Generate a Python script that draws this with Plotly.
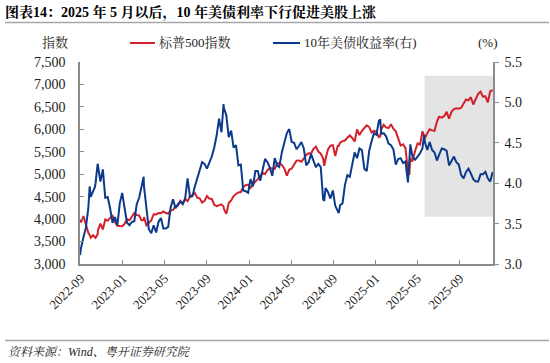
import plotly.graph_objects as go

dates = [
    "2022-08-30", "2022-09-02", "2022-09-09", "2022-09-16", "2022-09-23", "2022-09-27", "2022-09-30",
    "2022-10-07", "2022-10-12", "2022-10-14", "2022-10-20", "2022-10-21", "2022-10-28",
    "2022-11-04", "2022-11-11", "2022-11-18", "2022-11-25", "2022-12-02", "2022-12-09",
    "2022-12-16", "2022-12-23", "2022-12-30",
    "2023-01-06", "2023-01-13", "2023-01-20", "2023-01-27", "2023-02-03", "2023-02-10",
    "2023-02-17", "2023-02-24", "2023-03-02", "2023-03-03", "2023-03-10", "2023-03-17",
    "2023-03-24", "2023-03-31", "2023-04-07", "2023-04-14", "2023-04-21", "2023-04-28",
    "2023-05-05", "2023-05-12", "2023-05-19", "2023-05-26", "2023-06-02", "2023-06-09",
    "2023-06-16", "2023-06-23", "2023-06-30", "2023-07-07", "2023-07-14", "2023-07-21",
    "2023-07-28", "2023-08-04", "2023-08-11", "2023-08-18", "2023-08-25", "2023-09-01",
    "2023-09-08", "2023-09-15", "2023-09-22", "2023-09-29", "2023-10-06", "2023-10-13",
    "2023-10-19", "2023-10-20", "2023-10-27", "2023-11-03", "2023-11-10", "2023-11-17",
    "2023-11-24", "2023-12-01", "2023-12-08", "2023-12-15", "2023-12-22", "2023-12-29",
    "2024-01-05", "2024-01-12", "2024-01-19", "2024-01-26", "2024-02-02", "2024-02-09",
    "2024-02-16", "2024-02-23", "2024-03-01", "2024-03-08", "2024-03-15", "2024-03-22",
    "2024-03-28", "2024-04-05", "2024-04-12", "2024-04-19", "2024-04-26", "2024-05-03",
    "2024-05-10", "2024-05-17", "2024-05-24", "2024-05-31", "2024-06-07", "2024-06-14",
    "2024-06-21", "2024-06-28", "2024-07-05", "2024-07-12", "2024-07-19", "2024-07-26",
    "2024-08-02", "2024-08-05", "2024-08-09", "2024-08-16", "2024-08-23", "2024-08-30",
    "2024-09-06", "2024-09-13", "2024-09-16", "2024-09-20", "2024-09-27", "2024-10-04",
    "2024-10-11", "2024-10-18", "2024-10-25", "2024-11-01", "2024-11-08", "2024-11-15",
    "2024-11-22", "2024-11-29", "2024-12-06", "2024-12-13", "2024-12-20", "2024-12-27",
    "2025-01-03", "2025-01-10", "2025-01-14", "2025-01-17", "2025-01-24", "2025-01-31",
    "2025-02-07", "2025-02-14", "2025-02-21", "2025-02-28", "2025-03-07", "2025-03-14",
    "2025-03-21", "2025-03-28", "2025-04-04", "2025-04-08", "2025-04-11", "2025-04-17",
    "2025-04-25", "2025-05-02", "2025-05-09", "2025-05-16", "2025-05-21", "2025-05-23",
    "2025-05-30", "2025-06-06", "2025-06-13", "2025-06-20", "2025-06-27", "2025-07-03",
    "2025-07-11", "2025-07-18", "2025-07-25", "2025-08-01", "2025-08-08", "2025-08-15",
    "2025-08-22", "2025-08-29", "2025-09-05", "2025-09-12", "2025-09-19", "2025-09-26",
    "2025-10-03", "2025-10-10", "2025-10-17", "2025-10-24", "2025-10-31", "2025-11-07",
    "2025-11-14", "2025-11-21", "2025-11-28", "2025-12-05",
]

spx = [
    3986, 3924, 4067, 3873, 3693, 3647, 3586,
    3640, 3577, 3583, 3665, 3753, 3901,
    3771, 3993, 3965, 4026, 4072, 3934,
    3852, 3845, 3840,
    3895, 3999, 3973, 4071, 4136, 4090,
    4079, 3970, 3981, 4046, 3862, 3917,
    3971, 4109, 4105, 4137, 4133, 4169,
    4136, 4124, 4192, 4205, 4282, 4299,
    4410, 4348, 4450, 4399, 4505, 4536,
    4582, 4478, 4464, 4370, 4406, 4516,
    4457, 4450, 4320, 4288, 4309, 4327,
    4278, 4224, 4117, 4358, 4415, 4514,
    4559, 4595, 4604, 4719, 4755, 4770,
    4697, 4784, 4840, 4891, 4959, 5027,
    5006, 5089, 5137, 5124, 5117, 5234,
    5254, 5204, 5123, 4967, 5100, 5128,
    5223, 5303, 5305, 5278, 5347, 5432,
    5465, 5460, 5567, 5615, 5505, 5459,
    5347, 5186, 5344, 5554, 5635, 5648,
    5408, 5626, 5633, 5703, 5738, 5751,
    5815, 5864, 5808, 5729, 5996, 5871,
    5969, 6032, 6090, 6051, 5931, 5971,
    5942, 5827, 5843, 5997, 6101, 6041,
    6026, 6115, 6013, 5955, 5770, 5639,
    5668, 5581, 5074, 4983, 5363, 5283,
    5525, 5687, 5660, 5958, 5845, 5803,
    5912, 6000, 5977, 5968, 6173, 6279,
    6260, 6297, 6389, 6238, 6389, 6450,
    6467, 6460, 6482, 6584, 6664, 6644,
    6716, 6553, 6664, 6792, 6840, 6729,
    6734, 6603, 6849, 6870,
]

ust10y = [
    3.11, 3.20, 3.33, 3.45, 3.69, 3.96, 3.83,
    3.89, 3.95, 4.00, 4.24, 4.22, 4.02,
    4.17, 3.82, 3.83, 3.69, 3.51, 3.58,
    3.48, 3.75, 3.88,
    3.69, 3.51, 3.48, 3.52, 3.53, 3.74,
    3.82, 3.95, 4.08, 3.96, 3.70, 3.43,
    3.38, 3.48, 3.39, 3.52, 3.57, 3.44,
    3.44, 3.46, 3.70, 3.80, 3.69, 3.74,
    3.77, 3.74, 3.81, 4.06, 3.83, 3.84,
    3.96, 4.05, 4.16, 4.26, 4.24, 4.18,
    4.26, 4.33, 4.44, 4.59, 4.80, 4.63,
    4.98, 4.93, 4.84, 4.57, 4.65, 4.44,
    4.47, 4.22, 4.23, 3.91, 3.90, 3.88,
    4.05, 3.96, 4.15, 4.15, 4.03, 4.18,
    4.30, 4.26, 4.19, 4.09, 4.31, 4.22,
    4.20, 4.39, 4.50, 4.62, 4.67, 4.51,
    4.50, 4.42, 4.46, 4.51, 4.43, 4.22,
    4.26, 4.36, 4.28, 4.20, 4.24, 4.20,
    3.80, 3.78, 3.94, 3.89, 3.81, 3.91,
    3.72, 3.66, 3.63, 3.73, 3.75, 3.98,
    4.10, 4.08, 4.24, 4.38, 4.31, 4.43,
    4.41, 4.18, 4.15, 4.40, 4.52, 4.62,
    4.60, 4.77, 4.79, 4.61, 4.62, 4.58,
    4.49, 4.47, 4.42, 4.23, 4.30, 4.31,
    4.25, 4.27, 4.01, 4.26, 4.48, 4.33,
    4.29, 4.33, 4.37, 4.43, 4.60, 4.51,
    4.41, 4.51, 4.41, 4.38, 4.28, 4.35,
    4.43, 4.42, 4.40, 4.22, 4.28, 4.33,
    4.26, 4.23, 4.10, 4.06, 4.14, 4.18,
    4.12, 4.05, 4.02, 4.02, 4.11, 4.11,
    4.14, 4.06, 4.02, 4.14,
]

tick_vals = ["2022-09-01", "2023-01-01", "2023-05-01", "2023-09-01", "2024-01-01",
             "2024-05-01", "2024-09-01", "2025-01-01", "2025-05-01", "2025-09-01"]
tick_text = ["2022-09", "2023-01", "2023-05", "2023-09", "2024-01",
             "2024-05", "2024-09", "2025-01", "2025-05", "2025-09"]

series_names = ["标普500指数", "10年美债收益率(右)"]

shade_start = "2025-05-22"
shade_end = "2025-12-06"
shade_low, shade_high = 3.585, 5.33

RED = "#D3202A"
BLUE = "#0B3A8C"
SERIF = "Liberation Serif, Times New Roman, Noto Serif CJK SC, Noto Sans CJK SC, serif"
AX = "#8C8C8C"
TXT = "#222222"

W, H = 550, 363
ML, MR, MT, MB = 80, 57, 62, 99
PW, PH = W - ML - MR, H - MT - MB


def px_x(p):
    return (p - ML) / PW


def px_y(p):
    return (H - MB - p) / PH


fig = go.Figure()
fig.add_trace(go.Scatter(x=dates, y=spx, name=series_names[0], mode="lines",
                         line=dict(color=RED, width=2), yaxis="y", showlegend=False))
fig.add_trace(go.Scatter(x=dates, y=ust10y, name=series_names[1], mode="lines",
                         line=dict(color=BLUE, width=2), yaxis="y2", showlegend=False))

fig.add_shape(type="rect", xref="x", yref="y2", x0=shade_start, x1=shade_end,
              y0=shade_low, y1=shade_high, fillcolor="#E4E4E4", line_width=0, layer="below")

# separator lines
fig.add_shape(type="line", xref="paper", yref="paper", x0=px_x(5), x1=px_x(549),
              y0=px_y(22.5), y1=px_y(22.5), line=dict(color="#A6A6A6", width=1.5))
fig.add_shape(type="line", xref="paper", yref="paper", x0=px_x(5), x1=px_x(549),
              y0=px_y(340.5), y1=px_y(340.5), line=dict(color="#A6A6A6", width=1.5))

# legend (drawn manually)
legend_items = [(130, 155, RED, series_names[0]), (273, 300, BLUE, series_names[1])]
for x0, x1, col, name in legend_items:
    fig.add_shape(type="line", xref="paper", yref="paper", x0=px_x(x0), x1=px_x(x1),
                  y0=px_y(43), y1=px_y(43), line=dict(color=col, width=2))
    fig.add_annotation(text=name, xref="paper", yref="paper", x=px_x(x1 + 2), y=px_y(43),
                       showarrow=False, xanchor="left", yanchor="middle",
                       font=dict(family=SERIF, size=13, color=TXT))

fig.add_annotation(text="指数", xref="paper", yref="paper", x=px_x(55), y=px_y(43),
                   showarrow=False, xanchor="center", yanchor="middle",
                   font=dict(family=SERIF, size=13, color=TXT))
fig.add_annotation(text="(%)", xref="paper", yref="paper", x=px_x(488), y=px_y(43),
                   showarrow=False, xanchor="center", yanchor="middle",
                   font=dict(family=SERIF, size=13, color=TXT))
fig.add_annotation(text="<i>资料来源：Wind、粤开证券研究院</i>", xref="paper", yref="paper",
                   x=px_x(6), y=px_y(352), showarrow=False, xanchor="left", yanchor="middle",
                   font=dict(family=SERIF, size=12, color=TXT))

fig.update_layout(
    width=W, height=H,
    margin=dict(l=ML, r=MR, t=MT, b=MB, autoexpand=False),
    paper_bgcolor="white", plot_bgcolor="white",
    showlegend=False,
    font=dict(family=SERIF, size=14, color=TXT),
    title=dict(text="<b>图表14：2025 年 5 月以后，10 年美债利率下行促进美股上涨</b>",
               x=5 / W, xanchor="left", xref="container",
               y=1 - 12 / H, yanchor="middle", yref="container",
               font=dict(family=SERIF, size=14, color="#000")),
    xaxis=dict(type="date", range=["2022-08-30", shade_end],
               tickmode="array", tickvals=tick_vals, ticktext=tick_text,
               tickangle=-45, ticks="inside", ticklen=4, tickcolor=AX,
               showline=True, linecolor=AX, linewidth=1.5, showgrid=False, zeroline=False,
               tickfont=dict(family=SERIF, size=13, color=TXT)),
    yaxis=dict(range=[3000, 7500], dtick=500, tickformat=",", ticks="inside", ticklen=4,
               tickcolor=AX, showline=True, linecolor=AX, linewidth=1.5,
               showgrid=False, zeroline=False, ticklabelstandoff=10,
               tickfont=dict(family=SERIF, size=14, color=TXT)),
    yaxis2=dict(range=[3.0, 5.5], dtick=0.5, tickformat=".1f", overlaying="y", side="right",
                ticks="outside", ticklen=4, tickcolor=AX, showline=True, linecolor=AX,
                linewidth=1.5, showgrid=False, zeroline=False, ticklabelstandoff=3,
                tickfont=dict(family=SERIF, size=14, color=TXT)),
)

fig.write_html("out.html", config={"displayModeBar": False},
               post_script="document.body.style.margin='0';")
